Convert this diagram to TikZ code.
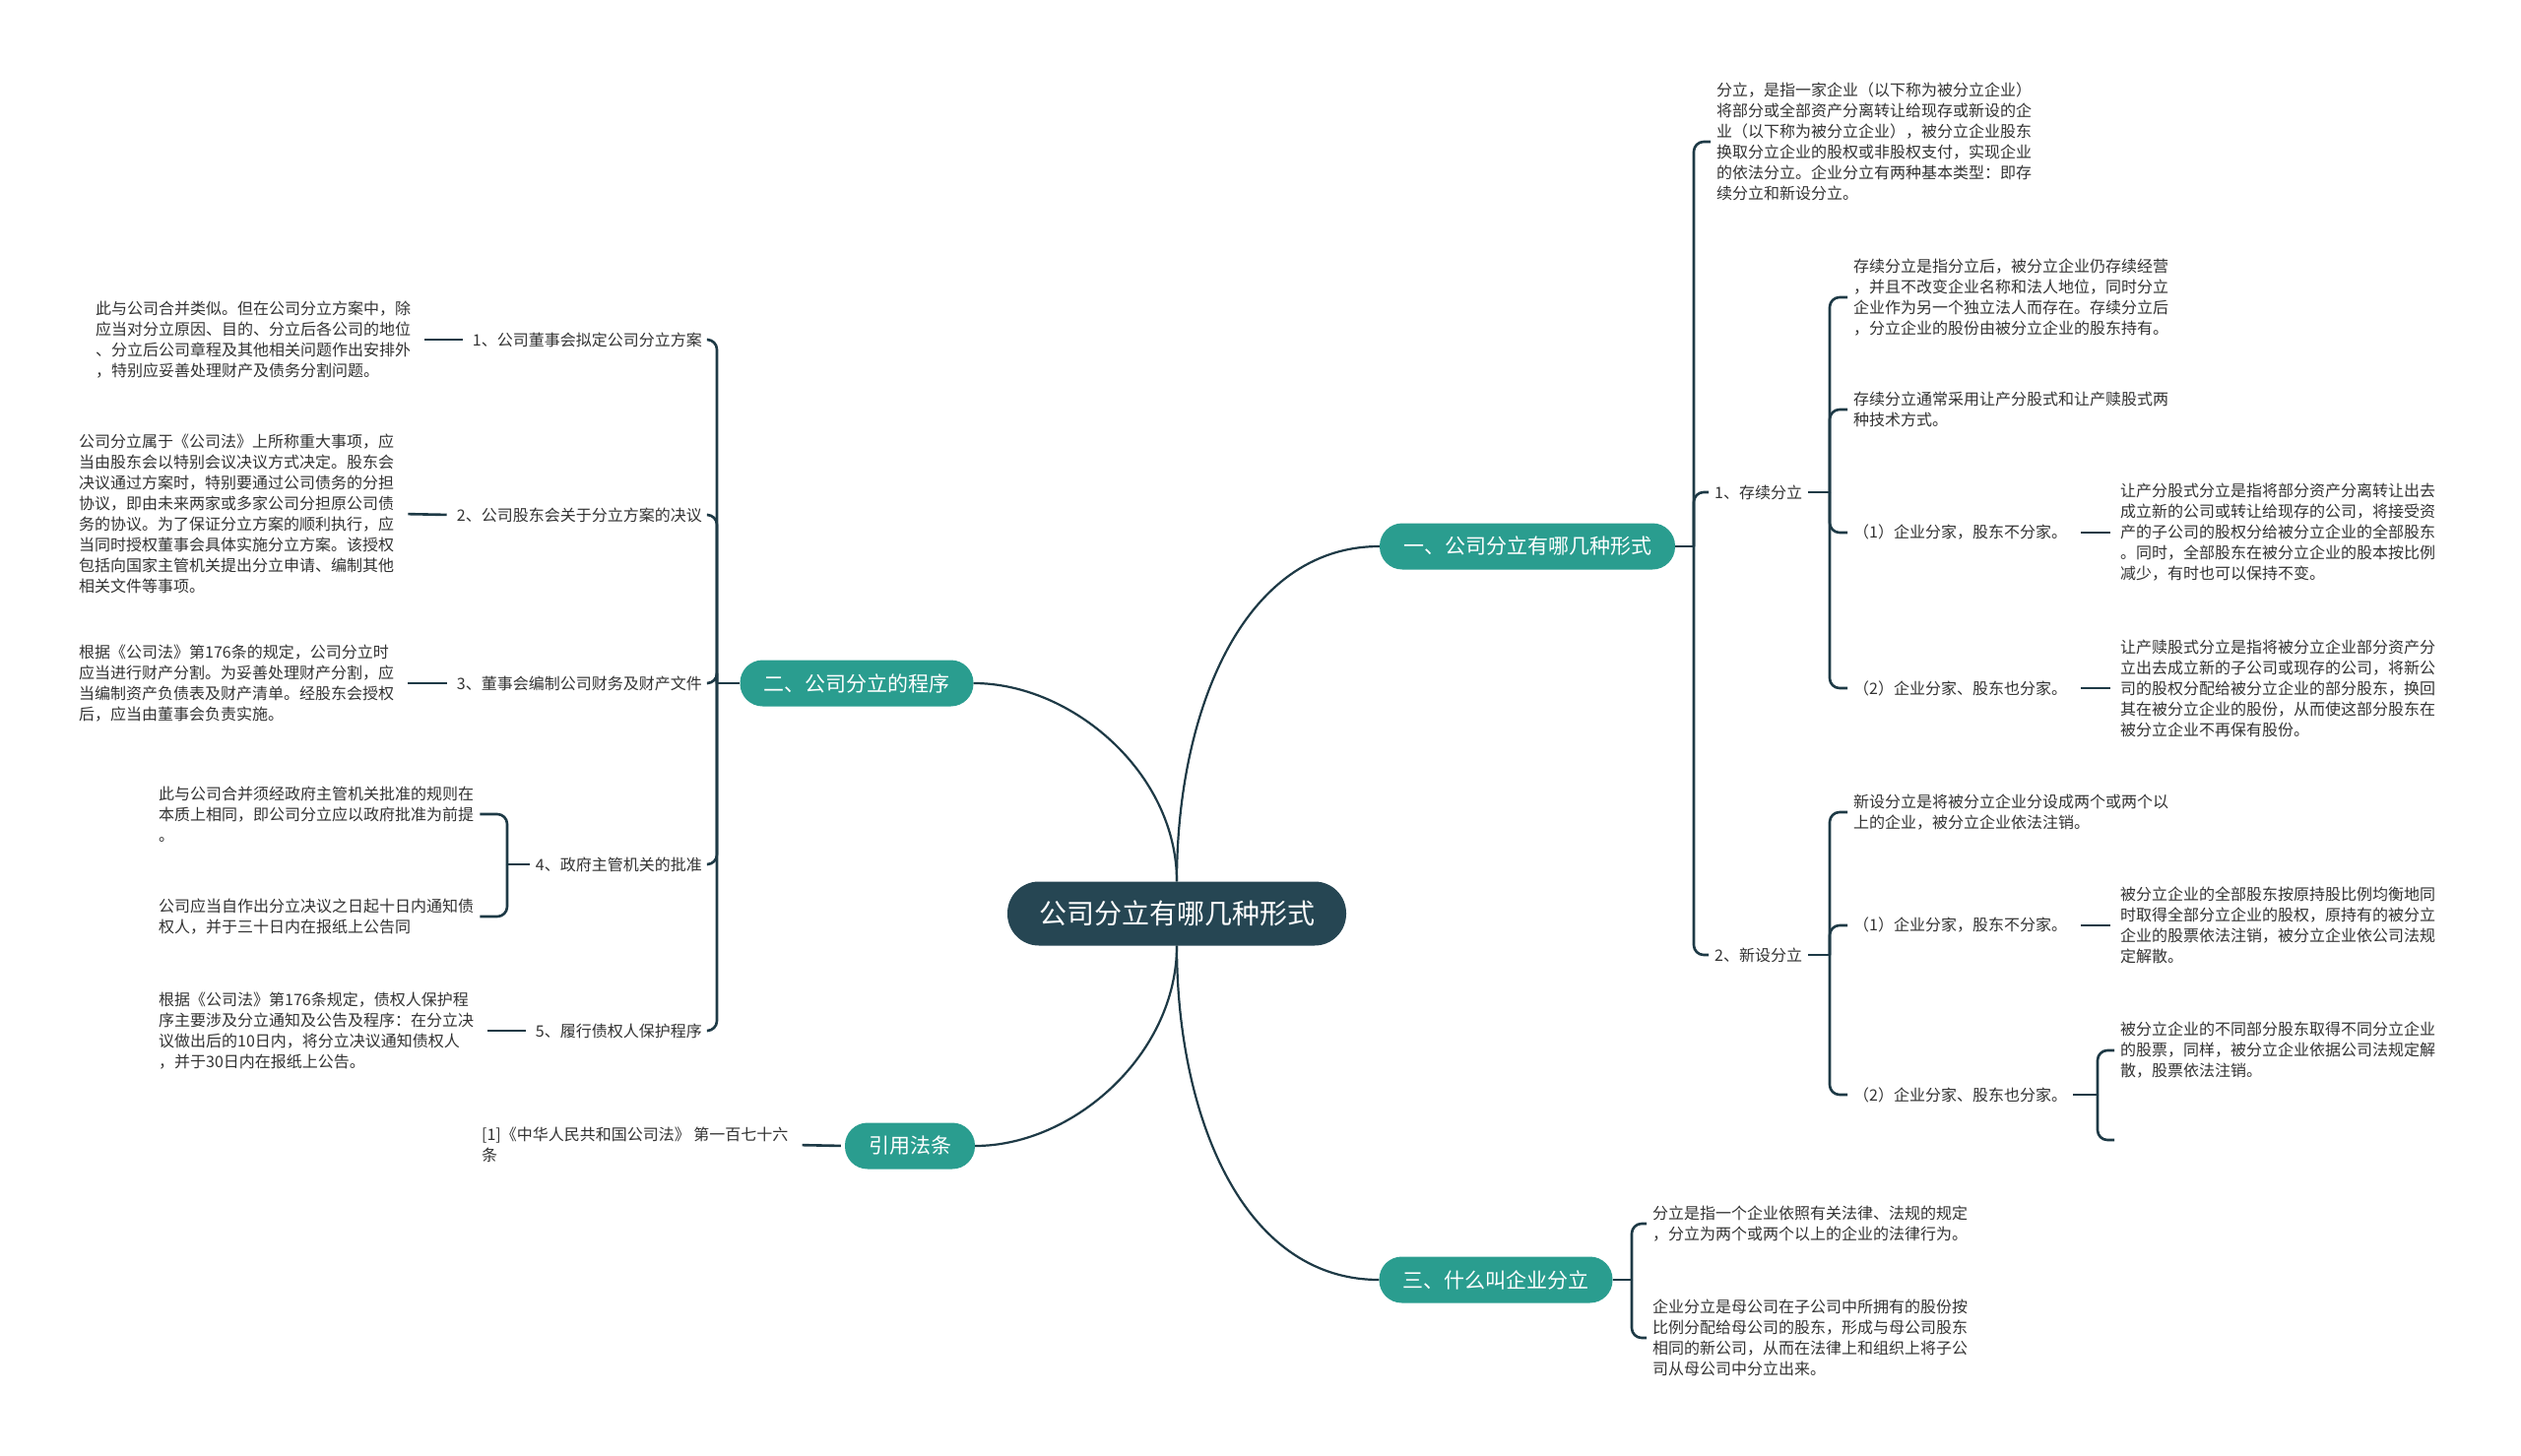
\documentclass[tikz,border=0pt]{standalone}
\usepackage{fontspec}
\usepackage{tikz}
\usetikzlibrary{calc}
\newfontfamily\cjk{Noto Sans CJK SC}
\definecolor{rootc}{HTML}{264653}
\definecolor{branchc}{HTML}{2A9D8F}
\definecolor{linec}{HTML}{1E3A46}
\definecolor{textc}{HTML}{333333}

\tikzset{
  root/.style={rectangle, rounded corners=32pt, fill=rootc, text=white,
    font=\cjk\fontsize{28}{32}\selectfont, minimum height=65pt, inner xsep=32pt},
  branch/.style={rectangle, rounded corners=23pt, fill=branchc, text=white,
    font=\cjk\fontsize{21}{24}\selectfont, minimum height=47pt, inner xsep=24pt},
  leaf/.style={font=\cjk\fontsize{16}{21}\selectfont, text=textc, align=left,
    inner xsep=6pt, inner ysep=2pt},
  link/.style={draw=linec, line width=2.6pt},
  curve/.style={draw=linec, line width=2.2pt},
  bracket/.style={link, rounded corners=10pt},
  stub/.style={link, shorten <=8pt, shorten >=4pt}
}

\begin{document}
\begin{tikzpicture}[x=1pt, y=-1pt]
  \fill[white] (0,0) rectangle (2560,1479);
  \useasboundingbox (0,0) rectangle (2560,1479);

  % --- centre and main branches ---
  \node[root] (root) at (1195,928) {公司分立有哪几种形式};
  \node[branch] (b1) at (1551,555) {一、公司分立有哪几种形式};
  \node[branch] (b2) at (870,694) {二、公司分立的程序};
  \node[branch] (ref) at (924,1164) {引用法条};
  \node[branch] (b3) at (1519,1300) {三、什么叫企业分立};

  \draw[curve] (root.north) .. controls +(0,-170) and +(-140,0) .. (b1.west);
  \draw[curve] (root.north) .. controls +(0,-110) and +(100,0) .. (b2.east);
  \draw[curve] (root.south) .. controls +(0,110) and +(100,0) .. (ref.east);
  \draw[curve] (root.south) .. controls +(0,170) and +(-140,0) .. (b3.west);

  % --- branch 1: forms ---
  \node[leaf, anchor=west] (t0) at (1737,144) {分立，是指一家企业（以下称为被分立企业）\\将部分或全部资产分离转让给现存或新设的企\\业（以下称为被分立企业），被分立企业股东\\换取分立企业的股权或非股权支付，实现企业\\的依法分立。企业分立有两种基本类型：即存\\续分立和新设分立。};
  \node[leaf, anchor=west] (c1) at (1735,500) {1、存续分立};
  \node[leaf, anchor=west] (c2) at (1735,970) {2、新设分立};

  \coordinate (b1s) at (1720,555);
  \draw[link] (b1.east) -- (b1s);
  \foreach \n in {t0,c1,c2} \draw[bracket] (b1s) |- (\n.west);

  % 1、存续分立
  \node[leaf, anchor=west] (d1) at (1876,302) {存续分立是指分立后，被分立企业仍存续经营\\，并且不改变企业名称和法人地位，同时分立\\企业作为另一个独立法人而存在。存续分立后\\，分立企业的股份由被分立企业的股东持有。};
  \node[leaf, anchor=west] (d2) at (1876,416) {存续分立通常采用让产分股式和让产赎股式两\\种技术方式。};
  \node[leaf, anchor=west] (d3) at (1876,541) {（1）企业分家，股东不分家。};
  \node[leaf, anchor=west] (d4) at (1876,699) {（2）企业分家、股东也分家。};
  \node[leaf, anchor=west] (e3) at (2147,541) {让产分股式分立是指将部分资产分离转让出去\\成立新的公司或转让给现存的公司，将接受资\\产的子公司的股权分给被分立企业的全部股东\\。同时，全部股东在被分立企业的股本按比例\\减少，有时也可以保持不变。};
  \node[leaf, anchor=west] (e4) at (2147,699) {让产赎股式分立是指将被分立企业部分资产分\\立出去成立新的子公司或现存的公司，将新公\\司的股权分配给被分立企业的部分股东，换回\\其在被分立企业的股份，从而使这部分股东在\\被分立企业不再保有股份。};

  \coordinate (c1s) at (1858,500);
  \draw[link] (c1.east) -- (c1s);
  \foreach \n in {d1,d2,d3,d4} \draw[bracket] (c1s) |- (\n.west);
  \draw[stub] (d3.east) -- (e3.west);
  \draw[stub] (d4.east) -- (e4.west);

  % 2、新设分立
  \node[leaf, anchor=west] (f1) at (1876,825) {新设分立是将被分立企业分设成两个或两个以\\上的企业，被分立企业依法注销。};
  \node[leaf, anchor=west] (f2) at (1876,940) {（1）企业分家，股东不分家。};
  \node[leaf, anchor=west] (f3) at (1876,1112) {（2）企业分家、股东也分家。};
  \node[leaf, anchor=west] (g2) at (2147,940) {被分立企业的全部股东按原持股比例均衡地同\\时取得全部分立企业的股权，原持有的被分立\\企业的股票依法注销，被分立企业依公司法规\\定解散。};
  \node[leaf, anchor=west] (g3) at (2147,1067) {被分立企业的不同部分股东取得不同分立企业\\的股票，同样，被分立企业依据公司法规定解\\散，股票依法注销。};
  \coordinate (g3e) at (2147,1158);

  \coordinate (c2s) at (1858,970);
  \draw[link] (c2.east) -- (c2s);
  \foreach \n in {f1,f2,f3} \draw[bracket] (c2s) |- (\n.west);
  \draw[stub] (f2.east) -- (g2.west);
  \coordinate (f3s) at (2130,1112);
  \draw[link] (f3.east) -- (f3s);
  \draw[bracket] (f3s) |- (g3.west);
  \draw[bracket] (f3s) |- (g3e);

  % --- branch 3: definition ---
  \node[leaf, anchor=west] (h1) at (1672,1243) {分立是指一个企业依照有关法律、法规的规定\\，分立为两个或两个以上的企业的法律行为。};
  \node[leaf, anchor=west] (h2) at (1672,1359) {企业分立是母公司在子公司中所拥有的股份按\\比例分配给母公司的股东，形成与母公司股东\\相同的新公司，从而在法律上和组织上将子公\\司从母公司中分立出来。};

  \coordinate (b3s) at (1657,1300);
  \draw[link] (b3.east) -- (b3s);
  \foreach \n in {h1,h2} \draw[bracket] (b3s) |- (\n.west);

  % --- branch 2: procedure ---
  \node[leaf, anchor=east] (p1) at (719,345) {1、公司董事会拟定公司分立方案};
  \node[leaf, anchor=east] (p2) at (719,523) {2、公司股东会关于分立方案的决议};
  \node[leaf, anchor=east] (p3) at (719,694) {3、董事会编制公司财务及财产文件};
  \node[leaf, anchor=east] (p4) at (719,878) {4、政府主管机关的批准};
  \node[leaf, anchor=east] (p5) at (719,1047) {5、履行债权人保护程序};

  \coordinate (b2s) at (728,694);
  \draw[link] (b2.west) -- (b2s);
  \foreach \n in {p1,p2,p3,p4,p5} \draw[bracket] (b2s) |- (\n.east);

  \node[leaf, anchor=west] (q1) at (91,345) {此与公司合并类似。但在公司分立方案中，除\\应当对分立原因、目的、分立后各公司的地位\\、分立后公司章程及其他相关问题作出安排外\\，特别应妥善处理财产及债务分割问题。};
  \node[leaf, anchor=west] (q2) at (74,522) {公司分立属于《公司法》上所称重大事项，应\\当由股东会以特别会议决议方式决定。股东会\\决议通过方案时，特别要通过公司债务的分担\\协议，即由未来两家或多家公司分担原公司债\\务的协议。为了保证分立方案的顺利执行，应\\当同时授权董事会具体实施分立方案。该授权\\包括向国家主管机关提出分立申请、编制其他\\相关文件等事项。};
  \node[leaf, anchor=west] (q3) at (74,694) {根据《公司法》第176条的规定，公司分立时\\应当进行财产分割。为妥善处理财产分割，应\\当编制资产负债表及财产清单。经股东会授权\\后，应当由董事会负责实施。};
  \node[leaf, anchor=west] (q4a) at (155,827) {此与公司合并须经政府主管机关批准的规则在\\本质上相同，即公司分立应以政府批准为前提\\。};
  \node[leaf, anchor=west] (q4b) at (155,931) {公司应当自作出分立决议之日起十日内通知债\\权人，并于三十日内在报纸上公告同};
  \node[leaf, anchor=west] (q5) at (155,1047) {根据《公司法》第176条规定，债权人保护程\\序主要涉及分立通知及公告及程序：在分立决\\议做出后的10日内，将分立决议通知债权人\\，并于30日内在报纸上公告。};

  \draw[stub] (q1.east) -- (p1.west);
  \draw[stub] (q2.east) -- (p2.west);
  \draw[stub] (q3.east) -- (p3.west);
  \draw[stub] (q5.east) -- (p5.west);
  \coordinate (p4s) at (515,878);
  \draw[link] (p4.west) -- (p4s);
  \foreach \n in {q4a,q4b} \draw[bracket] (p4s) |- (\n.east);

  % --- cited law ---
  \node[leaf, anchor=west] (r1) at (483,1163) {[1]《中华人民共和国公司法》 第一百七十六\\条};
  \draw[stub] (r1.east) -- (ref.west);
\end{tikzpicture}
\end{document}
